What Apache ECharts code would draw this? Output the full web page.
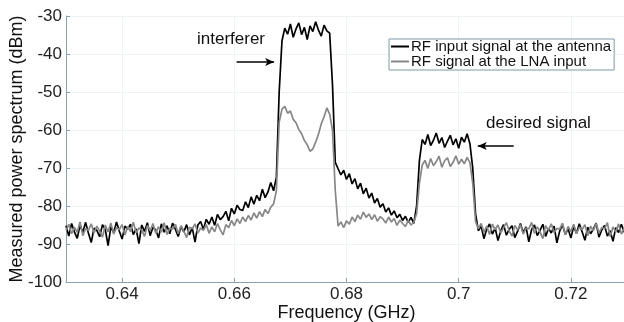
<!DOCTYPE html>
<html>
<head>
<meta charset="utf-8">
<script src="https://cdn.jsdelivr.net/npm/echarts@6/dist/echarts.min.js"></script>
<style>
  html, body { margin: 0; padding: 0; background: #fff; }
  #chart { width: 624px; height: 322px; }
</style>
</head>
<body>
<div id="chart"></div>
<script>
// sample grid: 0.63 .. 0.73 GHz, 0.5 MHz steps
const fStart = 0.63;
const fStep = 0.0005;

// RF input signal at the antenna (dBm)
const antenna = [
  -85.2, -87.9, -84.6, -86.8, -88.5, -85.1, -86.9, -84.3, -87.2, -89.6,
  -85.8, -86.4, -88.1, -84.9, -86.2, -90.4, -85.5, -87.0, -84.2, -86.6,
  -88.7, -85.3, -86.1, -84.8, -87.5, -86.0, -89.9, -85.0, -86.7, -84.4,
  -87.8, -85.6, -86.3, -88.4, -84.7, -86.9, -85.2, -87.3, -84.5, -86.1,
  -88.0, -85.4, -86.8, -84.9, -87.6, -85.7, -89.5, -85.0, -84.1, -86.2,
  -83.5, -84.8, -82.9, -85.1, -82.2, -83.6, -82.8, -81.4, -83.9, -80.6,
  -82.1, -79.8, -80.9, -81.2, -78.9, -80.4, -77.6, -79.5, -77.2, -78.6,
  -75.6, -77.8, -76.3, -73.8, -76.0, -72.5, -50.0, -36.5, -33.2, -34.8,
  -32.1, -35.6, -33.4, -31.8, -34.9, -33.0, -36.2, -32.6, -34.1, -31.5,
  -33.7, -35.3, -32.4, -33.9, -34.5, -48.0, -68.5, -70.2, -71.8, -70.6,
  -73.0, -71.5, -74.2, -72.8, -75.5, -74.0, -76.8, -75.3, -77.9, -76.6,
  -79.2, -78.0, -80.3, -79.4, -81.6, -80.5, -82.4, -81.3, -83.1, -82.2,
  -83.8, -82.7, -84.3, -83.0, -84.6, -80.0, -68.0, -62.5, -63.8, -61.2,
  -64.1, -62.7, -60.8, -63.5, -62.0, -64.6, -62.9, -61.4, -63.9, -62.3,
  -64.8, -61.9, -63.2, -61.0, -63.6, -70.0, -82.0, -86.5, -85.3, -88.6,
  -86.0, -84.7, -87.4, -85.8, -89.1, -86.5, -84.9, -87.7, -86.1, -85.2,
  -88.3, -86.7, -84.6, -87.0, -85.5, -89.4, -86.2, -85.0, -87.8, -86.4,
  -84.8, -88.0, -85.9, -87.1, -85.3, -89.7, -86.6, -84.9, -87.5, -86.0,
  -88.4, -85.4, -87.2, -84.7, -86.8, -89.0, -85.6, -87.3, -86.1, -84.5,
  -88.2, -86.3, -85.1, -87.9, -86.5, -89.3, -85.7, -87.0, -84.8, -86.9,
  -85.5
];

// RF signal at the LNA input (dBm)
const lna = [
  -86.5, -84.8, -87.3, -85.6, -86.9, -84.2, -87.8, -85.9, -86.4, -84.7,
  -87.1, -85.3, -86.6, -88.2, -85.0, -86.8, -84.5, -87.4, -85.7, -86.2,
  -84.9, -87.6, -85.4, -86.7, -84.3, -87.0, -85.8, -86.3, -88.0, -85.1,
  -86.5, -84.6, -87.2, -85.5, -86.9, -84.4, -87.5, -85.9, -86.1, -84.8,
  -87.3, -85.2, -86.6, -88.3, -85.6, -86.0, -84.7, -87.1, -85.8, -86.4,
  -84.9, -87.2, -85.5, -86.8, -84.6, -86.3, -87.6, -84.9, -85.7, -83.8,
  -85.2, -83.4, -84.6, -82.9, -84.1, -82.5, -83.7, -81.8, -83.2, -81.5,
  -82.8, -80.9, -82.0, -80.3, -79.5, -76.0, -58.0, -54.5, -53.8, -55.6,
  -55.0, -57.2, -58.1, -59.9, -61.0, -62.8, -63.9, -65.6, -65.0, -63.2,
  -61.1, -58.4, -56.5, -54.2, -55.8, -60.0, -76.0, -85.3, -84.2, -85.7,
  -83.9, -84.8, -82.9, -84.1, -82.4, -83.5, -81.6, -83.0, -82.1, -83.6,
  -82.3, -84.0, -82.8, -83.4, -84.5, -82.9, -84.2, -83.3, -85.1, -83.7,
  -84.6, -85.4, -83.8, -85.0, -84.3, -82.0, -74.0, -69.2, -68.0, -70.1,
  -67.5, -69.4, -68.3, -66.9, -69.8, -68.1, -67.3, -69.6, -68.5, -66.8,
  -69.0, -67.7, -68.9, -67.2, -68.6, -74.0, -84.0, -86.0, -84.6, -86.9,
  -85.3, -87.5, -84.8, -86.2, -85.0, -87.1, -85.7, -84.4, -86.6, -87.9,
  -85.1, -86.3, -84.9, -87.4, -85.8, -86.0, -84.3, -87.2, -85.5, -86.8,
  -88.6, -85.2, -86.4, -84.7, -87.0, -85.9, -86.1, -84.5, -87.6, -85.4,
  -86.7, -84.8, -87.3, -85.6, -86.2, -84.9, -87.8, -85.3, -86.5, -84.6,
  -87.1, -85.7, -86.0, -84.4, -88.1, -85.5, -86.9, -84.7, -87.4, -85.8,
  -86.3
];

const seriesNames = ['RF input signal at the antenna', 'RF signal at the LNA input'];

const toPairs = arr => arr.map((v, i) => [+(fStart + i * fStep).toFixed(4), v]);

const font = 'Liberation Sans, Arial, Helvetica, sans-serif';
const chart = echarts.init(document.getElementById('chart'));

chart.setOption({
  animation: false,
  textStyle: {fontFamily: font},
  grid: {left: 66, top: 16, width: 561, height: 266, outerBoundsMode: 'none', containLabel: false},
  legend: {
    orient: 'vertical',
    left: 389,
    top: 39,
    icon: 'rect',
    itemWidth: 18,
    itemHeight: 2,
    itemGap: 0,
    padding: [0, 3, 1, 2],
    borderColor: '#7f98a6',
    borderWidth: 1,
    backgroundColor: '#fff',
    textStyle: {fontSize: 15, color: '#111', fontFamily: font, padding: [0, 0, 0, -3], lineHeight: 15},
    data: seriesNames
  },
  xAxis: {
    type: 'value',
    min: 0.63,
    max: 0.73,
    splitNumber: 5,
    name: 'Frequency (GHz)',
    nameLocation: 'middle',
    nameGap: 31,
    nameMoveOverlap: false,
    nameTextStyle: {fontSize: 18, color: '#111', fontFamily: font, verticalAlign: 'middle'},
    axisLine: {lineStyle: {color: '#8aa0ac', width: 1}},
    axisTick: {inside: true, length: 4, lineStyle: {color: '#8aa0ac'}},
    axisLabel: {fontSize: 17, color: '#222', margin: 4, showMinLabel: false, showMaxLabel: false},
    splitLine: {lineStyle: {color: '#edf2f5'}}
  },
  yAxis: {
    type: 'value',
    min: -100,
    max: -30,
    interval: 10,
    name: 'Measured power spectrum (dBm)',
    nameLocation: 'middle',
    nameGap: 49,
    nameMoveOverlap: false,
    nameTextStyle: {fontSize: 18, color: '#111', fontFamily: font, verticalAlign: 'middle'},
    axisLine: {show: true, lineStyle: {color: '#8aa0ac', width: 1}},
    axisTick: {show: true, inside: true, length: 4, lineStyle: {color: '#8aa0ac'}},
    axisLabel: {fontSize: 17, color: '#222', margin: 4},
    splitLine: {lineStyle: {color: '#edf2f5'}}
  },
  series: [
    {
      name: seriesNames[0],
      type: 'line',
      data: toPairs(antenna),
      symbol: 'none',
      color: '#000',
      lineStyle: {width: 1.7, color: '#000'},
      z: 2,
      markLine: {
        silent: true,
        symbol: ['none', 'arrow'],
        symbolSize: [6, 9],
        label: {show: false},
        lineStyle: {color: '#000', width: 1.5, type: 'solid'},
        data: [
          [{coord: [0.6604, -42.1]}, {coord: [0.6671, -42.1]}],
          [{coord: [0.7098, -64.2]}, {coord: [0.7034, -64.2]}]
        ]
      }
    },
    {
      name: seriesNames[1],
      type: 'line',
      data: toPairs(lna),
      symbol: 'none',
      color: '#878787',
      lineStyle: {width: 1.7, color: '#878787'},
      z: 3
    }
  ],
  graphic: [
    {type: 'text', z: 100, left: 197, top: 31, style: {text: 'interferer', fontSize: 17, fontFamily: font, fill: '#111'}},
    {type: 'text', z: 100, left: 486, top: 115, style: {text: 'desired signal', fontSize: 17, fontFamily: font, fill: '#111'}}
  ]
});
</script>
</body>
</html>
